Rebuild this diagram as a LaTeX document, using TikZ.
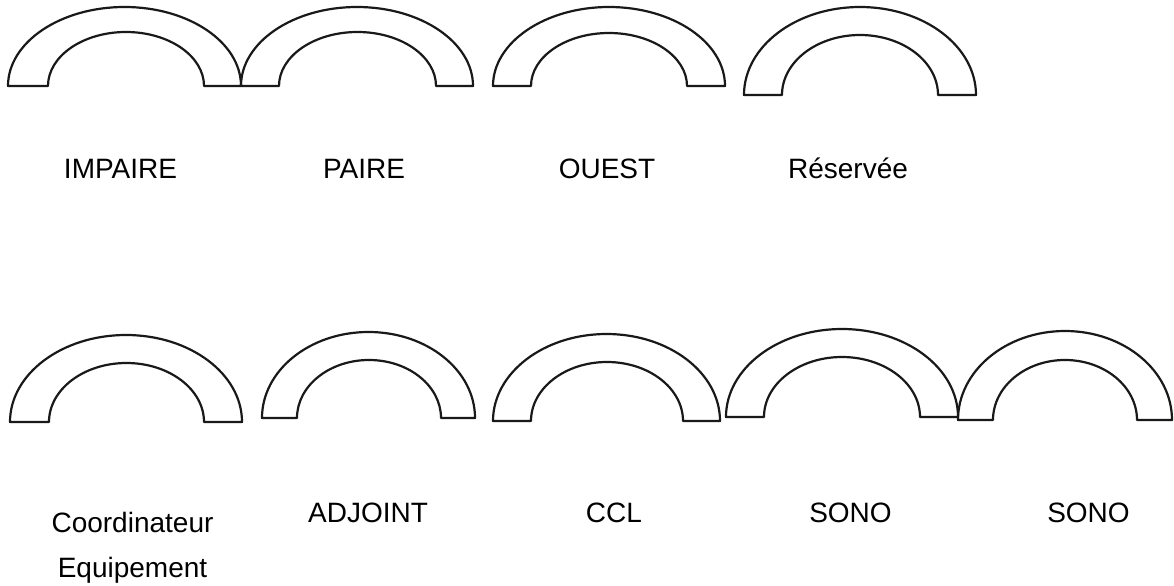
\documentclass[tikz,border=0pt]{standalone}
\usepackage{fontspec}
\setmainfont{Liberation Sans}

\begin{document}
\begin{tikzpicture}[x=0.5pt,y=0.5pt,
    arche/.style={draw=black!90,line width=1.1pt,line join=round},
    lbl/.style={inner sep=0pt,anchor=base,font=\fontsize{14}{22.5}\selectfont}]
   \useasboundingbox (0,0) rectangle (1174,585);

   % rang du haut
   \draw[arche] (8,499) arc[start angle=180,end angle=0,x radius=116.5,y radius=79]
      -- (204,499) arc[start angle=0,end angle=180,x radius=78,y radius=54] -- cycle;
   \draw[arche] (241,499) arc[start angle=180,end angle=0,x radius=116,y radius=79]
      -- (436,499) arc[start angle=0,end angle=180,x radius=78.5,y radius=54] -- cycle;
   \draw[arche] (493,499) arc[start angle=180,end angle=0,x radius=116,y radius=79]
      -- (687,499) arc[start angle=0,end angle=180,x radius=78,y radius=53] -- cycle;
   \draw[arche] (744,490) arc[start angle=180,end angle=0,x radius=116,y radius=88]
      -- (938,490) arc[start angle=0,end angle=180,x radius=78,y radius=60] -- cycle;

   \node[lbl] (impaire)  at (120.5,407) {IMPAIRE};
   \node[lbl] (paire)    at (364,407)   {PAIRE};
   \node[lbl] (ouest)    at (607,407)   {OUEST};
   \node[lbl] (reservee) at (848,407)   {Réservée};

   % rang du bas
   \draw[arche] (10,163) arc[start angle=180,end angle=0,x radius=116,y radius=87]
      -- (204,163) arc[start angle=0,end angle=180,x radius=77.5,y radius=59] -- cycle;
   \draw[arche] (262,167) arc[start angle=180,end angle=0,x radius=106.5,y radius=86]
      -- (441,167) arc[start angle=0,end angle=180,x radius=72,y radius=58] -- cycle;
   \draw[arche] (493,164) arc[start angle=180,end angle=0,x radius=113.5,y radius=87]
      -- (683,164) arc[start angle=0,end angle=180,x radius=76,y radius=59] -- cycle;
   \draw[arche] (726,168) arc[start angle=180,end angle=0,x radius=116,y radius=88]
      -- (920,168) arc[start angle=0,end angle=180,x radius=78,y radius=60] -- cycle;
   \draw[arche] (958,165) arc[start angle=180,end angle=0,x radius=107,y radius=89]
      -- (1137,165) arc[start angle=0,end angle=180,x radius=72,y radius=60] -- cycle;

   \node[lbl,align=center] (coord) at (132.5,8) {Coordinateur\\Equipement};
   \node[lbl] (adjoint) at (368,63)    {ADJOINT};
   \node[lbl] (ccl)     at (614,63)    {CCL};
   \node[lbl] (sono1)   at (850.5,63)  {SONO};
   \node[lbl] (sono2)   at (1088.5,63) {SONO};
\end{tikzpicture}
\end{document}
